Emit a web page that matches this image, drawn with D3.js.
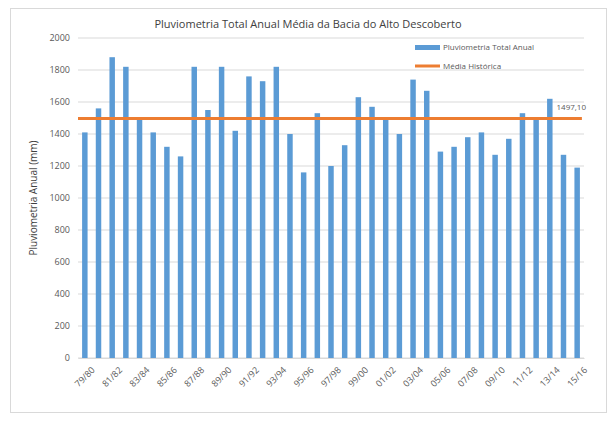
<!DOCTYPE html><html><head><meta charset="utf-8"><script src="https://cdn.jsdelivr.net/npm/d3@7"></script>
<style>body{margin:0;background:#fff}</style></head><body><svg id="c" width="616" height="425"></svg>
<script>
const categories=["79/80","80/81","81/82","82/83","83/84","84/85","85/86","86/87","87/88","88/89","89/90","90/91","91/92","92/93","93/94","94/95","95/96","96/97","97/98","98/99","99/00","00/01","01/02","02/03","03/04","04/05","05/06","06/07","07/08","08/09","09/10","10/11","11/12","12/13","13/14","14/15","15/16"];
const values=[1410,1560,1880,1820,1490,1410,1320,1260,1820,1550,1820,1420,1760,1730,1820,1400,1160,1530,1200,1330,1630,1570,1490,1400,1740,1670,1290,1320,1380,1410,1270,1370,1530,1490,1620,1270,1190];
const media=1497.10;
const yTicks=[0,200,400,600,800,1000,1200,1400,1600,1800,2000];
const svg=d3.select("#c");const F="Open Sans, sans-serif";
svg.append("rect").attr("x",10.5).attr("y",8.5).attr("width",596).attr("height",404).attr("fill","#fff").attr("stroke","#d9d9d9");
const x=d3.scaleBand().domain(categories).range([78,584]).paddingInner(0.6).paddingOuter(0.3);
const y=d3.scaleLinear().domain([0,2000]).range([358,38]);
const g=svg.append("g");
yTicks.forEach(t=>g.append("line").attr("x1",78).attr("x2",584).attr("y1",y(t)).attr("y2",y(t)).attr("stroke","#d9d9d9"));
g.selectAll(".b").data(values).join("rect").attr("x",(d,i)=>x(categories[i])).attr("width",x.bandwidth()).attr("y",d=>y(d)).attr("height",d=>y(0)-y(d)).attr("fill","#5b9bd5");
svg.append("line").attr("x1",78).attr("x2",x(categories[36])+x.bandwidth()+2).attr("y1",y(media)).attr("y2",y(media)).attr("stroke","#ed7d31").attr("stroke-width",3);
svg.append("text").attr("x",586).attr("y",y(media)-8).attr("text-anchor","end").text("1497,10").attr("font-family",F).attr("font-size",8).attr("fill","#595959");
const ya=svg.append("g").attr("transform","translate(78,0)").call(d3.axisLeft(y).tickValues(yTicks).tickFormat(d3.format("d")).tickSize(0).tickPadding(8));
ya.select(".domain").remove();ya.selectAll("text").attr("font-family",F).attr("font-size",9).attr("fill","#595959");
const xa=svg.append("g").attr("transform","translate(0,358)").call(d3.axisBottom(x).tickValues(categories.filter((c,i)=>i%2==0)).tickSize(0));
xa.select(".domain").attr("stroke","#d9d9d9");
xa.selectAll("text").attr("font-family",F).attr("font-size",9).attr("fill","#595959").attr("text-anchor","end").attr("transform","translate(4,6) rotate(-45)");
svg.append("text").attr("x",308).attr("y",28).attr("text-anchor","middle").text("Pluviometria Total Anual Média da Bacia do Alto Descoberto").attr("font-family",F).attr("font-size",11).attr("fill","#404040");
svg.append("text").attr("transform","translate(37,198) rotate(-90)").attr("text-anchor","middle").text("Pluviometria Anual (mm)").attr("font-family",F).attr("font-size",10).attr("fill","#404040");
svg.append("rect").attr("x",415).attr("y",45).attr("width",25).attr("height",5).attr("fill","#5b9bd5");
svg.append("text").attr("x",443).attr("y",50).text("Pluviometria Total Anual").attr("font-family",F).attr("font-size",8).attr("fill","#595959");
svg.append("line").attr("x1",415).attr("x2",440).attr("y1",66).attr("y2",66).attr("stroke","#ed7d31").attr("stroke-width",3);
svg.append("text").attr("x",443).attr("y",69).text("Média Histórica").attr("font-family",F).attr("font-size",8).attr("fill","#595959");
</script></body></html>
